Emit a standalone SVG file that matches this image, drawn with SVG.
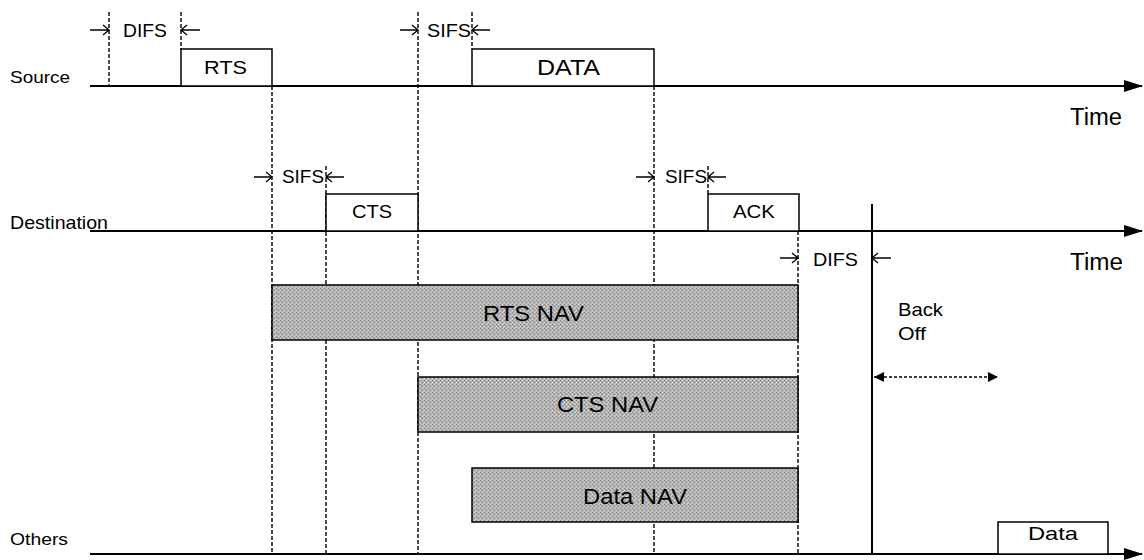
<svg xmlns="http://www.w3.org/2000/svg" width="1144" height="560" viewBox="0 0 1144 560">
<style>
text{font-family:"Liberation Sans",Arial,sans-serif;fill:#000}
.f17{font-size:17px}
.f19{font-size:19px}
.f22{font-size:22px}
.f23{font-size:23px}
.axis{stroke:#000;stroke-width:2;fill:none}
.dash{stroke:#000;stroke-width:1.4;stroke-dasharray:4 2;fill:none}
.box{fill:#fff;stroke:#000;stroke-width:1.5}
.navbox{fill:url(#grain);stroke:#000;stroke-width:1.5}
.tick{stroke:#000;stroke-width:1.3;fill:none}
</style>
<defs>
<pattern id="grain" width="4" height="4" patternUnits="userSpaceOnUse">
<rect width="4" height="4" fill="#b4b4b4"/>
<rect x="0" y="0" width="1" height="1" fill="#858585"/>
<rect x="2" y="2" width="1" height="1" fill="#858585"/>
<rect x="2" y="0" width="1" height="1" fill="#d6d6d6"/>
<rect x="0" y="2" width="1" height="1" fill="#d6d6d6"/>
<rect x="1" y="1" width="1" height="1" fill="#999"/>
<rect x="3" y="3" width="1" height="1" fill="#cccccc"/>
</pattern>
<marker id="tri" markerWidth="20" markerHeight="14" refX="18" refY="7" orient="auto" markerUnits="userSpaceOnUse">
<path d="M0,1 L19,7 L0,13 Z" fill="#000"/>
</marker>
<marker id="sm" markerWidth="12" markerHeight="12" refX="10" refY="6" orient="auto-start-reverse" markerUnits="userSpaceOnUse">
<path d="M0,1 L10,6 L0,11 Z" fill="#000"/>
</marker>
</defs>

<g id="labels">
<text class="f17" x="10" y="83" textLength="60" lengthAdjust="spacingAndGlyphs">Source</text>
<text class="f19" x="10" y="229" textLength="98" lengthAdjust="spacingAndGlyphs">Destination</text>
<text class="f17" x="10" y="545" textLength="58" lengthAdjust="spacingAndGlyphs">Others</text>
<text class="f23" x="1070" y="125" textLength="52" lengthAdjust="spacingAndGlyphs">Time</text>
<text class="f23" x="1070" y="270" textLength="53" lengthAdjust="spacingAndGlyphs">Time</text>
</g>

<g id="connectors">
<line class="axis" x1="90" y1="86" x2="1142" y2="86" marker-end="url(#tri)"/>
<line class="axis" x1="90" y1="231" x2="1142" y2="231" marker-end="url(#tri)"/>
<line class="axis" x1="90" y1="554" x2="1142" y2="554" marker-end="url(#tri)"/>
<line class="dash" x1="109" y1="12" x2="109" y2="86"/>
<line class="dash" x1="181" y1="12" x2="181" y2="49"/>
<line class="dash" x1="272" y1="86" x2="272" y2="554"/>
<line class="dash" x1="418" y1="12" x2="418" y2="554"/>
<line class="dash" x1="472" y1="12" x2="472" y2="49"/>
<line class="dash" x1="654" y1="86" x2="654" y2="554"/>
<line class="dash" x1="326" y1="166" x2="326" y2="554"/>
<line class="dash" x1="708" y1="166" x2="708" y2="194"/>
<line class="dash" x1="798" y1="231" x2="798" y2="554"/>
<line x1="872" y1="204" x2="872" y2="554" stroke="#000" stroke-width="2"/>
<path class="tick" d="M90,30 H109 M103,25 L109,30 L103,35"/>
<path class="tick" d="M200,30 H181 M187,25 L181,30 L187,35"/>
<path class="tick" d="M400,30 H418 M412,25 L418,30 L412,35"/>
<path class="tick" d="M490,30 H472 M478,25 L472,30 L478,35"/>
<path class="tick" d="M254,177 H272 M266,172 L272,177 L266,182"/>
<path class="tick" d="M344,177 H326 M332,172 L326,177 L332,182"/>
<path class="tick" d="M636,177 H654 M648,172 L654,177 L648,182"/>
<path class="tick" d="M726,177 H708 M714,172 L708,177 L714,182"/>
<path class="tick" d="M780,258 H798 M792,253 L798,258 L792,263"/>
<path class="tick" d="M891,258 H872 M878,253 L872,258 L878,263"/>
<line x1="874" y1="377" x2="998" y2="377" stroke="#000" stroke-width="1.4" stroke-dasharray="3 2" marker-start="url(#sm)" marker-end="url(#sm)"/>
</g>

<g id="interval-labels">
<text class="f19" x="123" y="37" textLength="44" lengthAdjust="spacingAndGlyphs">DIFS</text>
<text class="f19" x="427" y="37" textLength="44" lengthAdjust="spacingAndGlyphs">SIFS</text>
<text class="f19" x="282" y="183" textLength="42" lengthAdjust="spacingAndGlyphs">SIFS</text>
<text class="f19" x="665" y="183" textLength="42" lengthAdjust="spacingAndGlyphs">SIFS</text>
<text class="f19" x="813" y="266" textLength="45" lengthAdjust="spacingAndGlyphs">DIFS</text>
<text class="f19" x="898" y="316" textLength="45" lengthAdjust="spacingAndGlyphs">Back</text>
<text class="f19" x="898" y="340" textLength="28" lengthAdjust="spacingAndGlyphs">Off</text>
</g>

<g id="rts"><rect class="box" x="181" y="49" width="91" height="37"/><text class="f19" x="204" y="74" textLength="43" lengthAdjust="spacingAndGlyphs">RTS</text></g>
<g id="data"><rect class="box" x="472" y="49" width="182" height="37"/><text class="f22" x="537" y="75" textLength="63" lengthAdjust="spacingAndGlyphs">DATA</text></g>
<g id="cts"><rect class="box" x="326" y="194" width="92" height="37"/><text class="f19" x="352" y="218" textLength="40" lengthAdjust="spacingAndGlyphs">CTS</text></g>
<g id="ack"><rect class="box" x="708" y="194" width="91" height="37"/><text class="f19" x="733" y="218" textLength="42" lengthAdjust="spacingAndGlyphs">ACK</text></g>
<g id="others-data"><rect class="box" x="998" y="522" width="110" height="32"/><text class="f19" x="1028" y="540" textLength="50" lengthAdjust="spacingAndGlyphs">Data</text></g>

<g id="rts-nav"><rect class="navbox" x="272" y="285" width="526" height="55"/><text class="f22" x="483" y="321" textLength="101" lengthAdjust="spacingAndGlyphs">RTS NAV</text></g>
<g id="cts-nav"><rect class="navbox" x="418" y="377" width="380" height="55"/><text class="f22" x="557" y="412" textLength="101" lengthAdjust="spacingAndGlyphs">CTS NAV</text></g>
<g id="data-nav"><rect class="navbox" x="472" y="468" width="326" height="54"/><text class="f22" x="583" y="504" textLength="104" lengthAdjust="spacingAndGlyphs">Data NAV</text></g>
</svg>
